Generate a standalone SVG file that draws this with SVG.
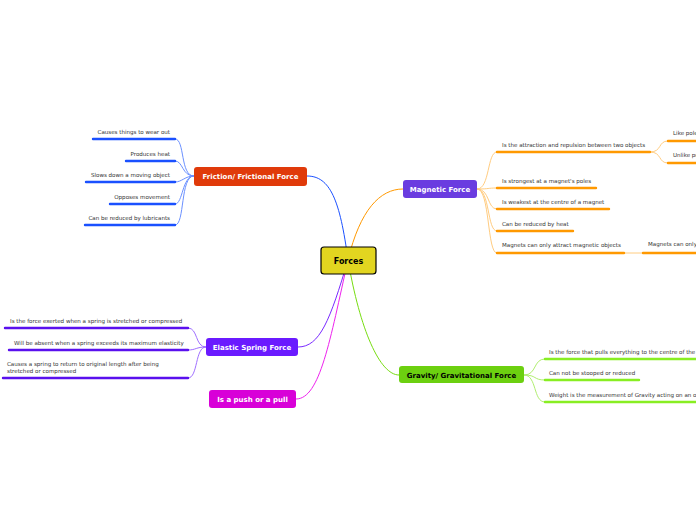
<svg xmlns="http://www.w3.org/2000/svg" width="696" height="520" viewBox="0 0 696 520">
<style>
text{font-family:Verdana,"DejaVu Sans",sans-serif;font-size:5.55px;fill:#333}
.m{font-size:7px;font-weight:bold;fill:#fff;text-anchor:middle}
.r{text-anchor:end}
.c{fill:none;stroke-width:1}
.u{stroke-width:2.4;stroke-linecap:round;fill:none}
</style>
<g id="connectors">
<path class="c" stroke="#1a50ff" d="M348 260 C340 200 330 176 307 176"/>
<path class="c" stroke="#ff9900" d="M348 260 C360 210 380 189 403 189"/>
<path class="c" stroke="#7a2aff" d="M348 260 C330 320 320 347 298 347"/>
<path class="c" stroke="#ee22ee" d="M348 260 C330 340 320 399 296 399"/>
<path class="c" stroke="#77dd11" d="M348 260 C360 330 380 375 399 375"/>
<g stroke="#6a90ff" class="c" stroke-width="0.7">
<path d="M194 176 C180 176 185 139 175 139"/><path d="M194 176 C182 176 183 161 175 161"/><path d="M194 176 C185 176 182 182 175 182"/><path d="M194 176 C182 176 183 204 175 204"/><path d="M194 176 C180 176 185 225 175 225"/>
</g>
<g stroke="#ffcc80" class="c" stroke-width="0.7">
<path d="M477 189 C490 189 487 152 497 152"/><path d="M477 189 C490 189 487 188 497 188"/><path d="M477 189 C490 189 487 209 497 209"/><path d="M477 189 C490 189 487 231 497 231"/><path d="M477 189 C490 189 487 253 497 253"/>
<path d="M650 152 C662 152 658 141 668 141"/><path d="M650 152 C662 152 658 163 668 163"/><path d="M624 253 L643 253"/>
</g>
<g stroke="#a070ff" class="c" stroke-width="0.7">
<path d="M206 347 C195 347 198 328 188 328"/><path d="M206 347 C196 347 196 350 188 350"/><path d="M206 347 C195 347 198 378 188 378"/>
</g>
<g stroke="#b0ee70" class="c" stroke-width="0.7">
<path d="M524 375 C537 375 533 359 545 359"/><path d="M524 375 C537 375 533 380 545 380"/><path d="M524 375 C537 375 533 402 545 402"/>
</g>
</g>
<g id="forces"><rect x="321" y="247" width="55" height="27" rx="3" fill="#e2d520" stroke="#000" stroke-width="1.2"/><text x="348.5" y="264" class="m" style="fill:#000;font-size:8px">Forces</text></g>
<g id="friction"><rect x="194" y="167" width="113" height="19" rx="3" fill="#e03a0a"/><text x="250.5" y="179" class="m">Friction/ Frictional Force</text>
<g stroke="#1a50ff" class="u"><path d="M93 139H175M126 161H175M86 182H175M110 204H175M85 225H175"/></g>
<text x="170" y="134" class="r">Causes things to wear out</text><text x="170" y="156" class="r">Produces heat</text><text x="170" y="177" class="r">Slows down a moving object</text><text x="170" y="199" class="r">Opposes movement</text><text x="170" y="220" class="r">Can be reduced by lubricants</text></g>
<g id="magnetic"><rect x="403" y="180" width="74" height="18" rx="3" fill="#6a3ce0"/><text x="440" y="192" class="m">Magnetic Force</text>
<g stroke="#ff9900" class="u"><path d="M497 152H650M668 141H700M668 163H700M497 188H596M497 209H609M497 231H573M497 253H624M643 253H700"/></g>
<text x="502" y="147">Is the attraction and repulsion between two objects</text><text x="673" y="135">Like poles repel</text><text x="673" y="157">Unlike poles attract</text><text x="502" y="183">Is strongest at a magnet's poles</text><text x="502" y="204">Is weakest at the centre of a magnet</text><text x="502" y="226">Can be reduced by heat</text><text x="502" y="247">Magnets can only attract magnetic objects</text><text x="648" y="246">Magnets can only attract</text></g>
<g id="elastic"><rect x="206" y="338" width="92" height="18" rx="3" fill="#6a1aff"/><text x="252" y="350" class="m">Elastic Spring Force</text>
<g stroke="#5a10ee" class="u"><path d="M5 328H188M9 350H188M3 378H188"/></g>
<text x="10" y="323">Is the force exerted when a spring is stretched or compressed</text><text x="14" y="345">Will be absent when a spring exceeds its maximum elasticity</text><text x="7" y="366">Causes a spring to return to original length after being</text><text x="7" y="373">stretched or compressed</text></g>
<g id="push"><rect x="209" y="390" width="87" height="18" rx="3" fill="#d800d8"/><text x="252.5" y="402" class="m">Is a push or a pull</text></g>
<g id="gravity"><rect x="399" y="366" width="125" height="17" rx="3" fill="#6cd010"/><text x="461.5" y="377.5" class="m" style="fill:#000">Gravity/ Gravitational Force</text>
<g stroke="#88ee22" class="u"><path d="M545 359H700M545 380H639M545 402H700"/></g>
<text x="549" y="354">Is the force that pulls everything to the centre of the Earth</text><text x="549" y="375">Can not be stooped or reduced</text><text x="549" y="397">Weight is the measurement of Gravity acting on an object</text></g>
</svg>
